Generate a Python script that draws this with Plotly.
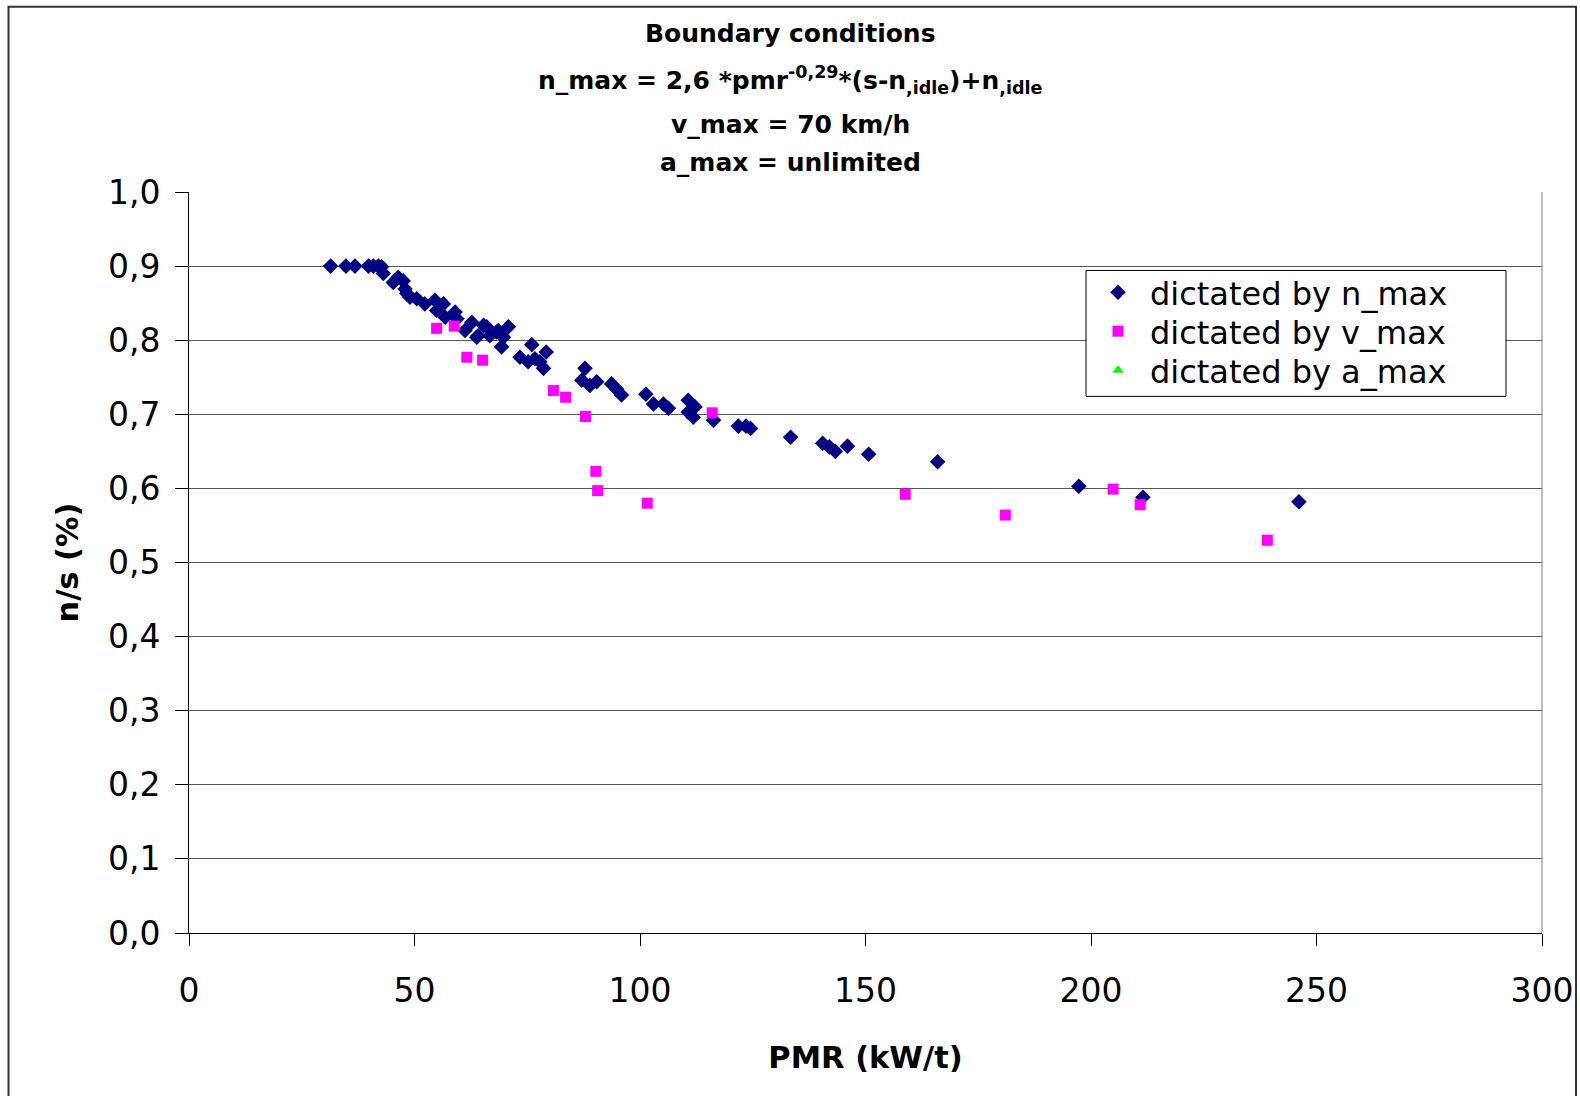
import plotly.graph_objects as go

# ---- data (PMR in kW/t, n/s) ----
nmax_x = [31.4, 34.8, 36.8, 39.8, 40.9, 42.0, 42.7, 43.1, 45.3, 46.4, 47.5, 47.9, 48.3, 49.0,
          50.5, 52.3, 54.5, 54.9, 56.4, 56.8, 59.0, 59.4, 61.2, 62.7, 63.8, 64.1, 65.3, 66.0,
          66.7, 68.2, 68.6, 69.3, 69.7, 70.8, 73.4, 75.2, 76.0, 76.7, 77.8, 78.6, 79.2, 87.1,
          87.8, 88.9, 90.4, 93.7, 94.8, 95.9, 101.3, 103.0, 105.2, 106.3, 110.7, 110.7, 111.8,
          112.2, 116.3, 121.8, 123.5, 124.5, 133.4, 140.5, 142.0, 143.3, 146.0, 150.7, 166.0,
          197.3, 211.5, 246.1]
nmax_y = [0.900, 0.900, 0.900, 0.900, 0.900, 0.900, 0.899, 0.890, 0.878, 0.885, 0.880, 0.869, 0.863, 0.858,
          0.856, 0.849, 0.854, 0.840, 0.849, 0.831, 0.838, 0.829, 0.813, 0.824, 0.804, 0.806, 0.820, 0.818,
          0.806, 0.811, 0.813, 0.791, 0.804, 0.818, 0.777, 0.771, 0.794, 0.775, 0.771, 0.762, 0.784, 0.746,
          0.762, 0.739, 0.744, 0.741, 0.734, 0.726, 0.727, 0.714, 0.714, 0.708, 0.719, 0.703, 0.696,
          0.710, 0.692, 0.684, 0.684, 0.681, 0.669, 0.661, 0.656, 0.650, 0.657, 0.646, 0.636,
          0.603, 0.588, 0.582]

vmax_x = [54.9, 58.8, 61.6, 65.1, 80.8, 83.5, 87.9, 90.2, 90.6, 101.6, 116.0, 158.8, 181.0, 204.9, 210.9, 239.1]
vmax_y = [0.816, 0.819, 0.777, 0.773, 0.732, 0.723, 0.697, 0.623, 0.597, 0.580, 0.702, 0.592, 0.564, 0.599, 0.578, 0.530]

amax_x = []
amax_y = []

series_names = ["dictated by n_max", "dictated by v_max", "dictated by a_max"]
x_ticks = [0, 50, 100, 150, 200, 250, 300]
y_ticks = [0.0, 0.1, 0.2, 0.3, 0.4, 0.5, 0.6, 0.7, 0.8, 0.9, 1.0]

title_lines = [
    "Boundary conditions",
    "n_max = 2,6 *pmr<sup>-0,29</sup>*(s-n<sub>,idle</sub>)+n<sub>,idle</sub>",
    "v_max = 70 km/h",
    "a_max = unlimited",
]

FONT = "DejaVu Sans"

fig = go.Figure()
fig.add_trace(go.Scatter(x=nmax_x, y=nmax_y, mode="markers", name=series_names[0], legend="legend",
                         marker=dict(symbol="diamond", size=12, color="#000080")))
fig.add_trace(go.Scatter(x=vmax_x, y=vmax_y, mode="markers", name=series_names[1], legend="legend2",
                         marker=dict(symbol="square", size=11, color="#FF00FF")))
fig.add_trace(go.Scatter(x=amax_x if amax_x else [None], y=amax_y if amax_y else [None],
                         mode="markers", name=series_names[2], legend="legend3",
                         marker=dict(symbol="triangle-up", size=10, color="#00FF00")))

L, R, T, B = 189, 38, 191.5, 163
W, H = 1580, 1096
pw = W - L - R
ph = H - T - B

def px_x(X):
    return (X - L) / pw

def px_y(Y):
    return (H - B - Y) / ph

title_y = [33, 79, 124, 162]
for txt, yy in zip(title_lines, title_y):
    fig.add_annotation(text="<b>" + txt + "</b>", xref="paper", yref="paper",
                       x=px_x(790), y=px_y(yy), xanchor="center", yanchor="middle",
                       showarrow=False, font=dict(family=FONT, size=25, color="black"))

# outer chart border
fig.add_shape(type="rect", xref="paper", yref="paper",
              x0=px_x(8.5), x1=px_x(1576), y0=px_y(1110), y1=px_y(6),
              line=dict(color="#333333", width=2), fillcolor="rgba(0,0,0,0)", layer="below")
# right plot-area border
fig.add_shape(type="line", xref="paper", yref="paper", x0=1, x1=1, y0=0, y1=1,
              line=dict(color="#808080", width=1))
# legend frame
fig.add_shape(type="rect", xref="paper", yref="paper",
              x0=px_x(1086), x1=px_x(1506), y0=px_y(396), y1=px_y(270),
              line=dict(color="black", width=1), fillcolor="white", layer="above")

legend_rows = [292, 331, 370]
leg_common = dict(xanchor="left", yanchor="middle", bgcolor="rgba(0,0,0,0)", borderwidth=0,
                  font=dict(family=FONT, size=32, color="black"), itemsizing="trace", itemwidth=54)

fig.update_layout(
    width=W, height=H,
    margin=dict(l=L, r=R, t=T, b=B, autoexpand=False),
    paper_bgcolor="white", plot_bgcolor="white",
    separators=", ",
    font=dict(family=FONT, color="black"),
    showlegend=True,
    legend=dict(x=px_x(1086), y=px_y(legend_rows[0]), **leg_common),
    legend2=dict(x=px_x(1086), y=px_y(legend_rows[1]), **leg_common),
    legend3=dict(x=px_x(1086), y=px_y(legend_rows[2]), **leg_common),
    xaxis=dict(range=[0, 300], tickvals=x_ticks, tickformat="d",
               showgrid=False, zeroline=False, showline=True, linecolor="black", linewidth=1,
               ticks="outside", ticklen=12, tickcolor="black",
               tickfont=dict(family=FONT, size=33, color="black"),
               ticklabelstandoff=16,
               title=dict(text="<b>PMR (kW/t)</b>", font=dict(family=FONT, size=30.5, color="black"),
                          standoff=38)),
    yaxis=dict(range=[0, 1.0], tickvals=y_ticks, tickformat=".1f",
               showgrid=True, gridcolor="#555555", gridwidth=1,
               zeroline=False, showline=True, linecolor="black", linewidth=1,
               ticks="outside", ticklen=13, tickcolor="black",
               tickfont=dict(family=FONT, size=33, color="black"),
               ticklabelstandoff=8,
               title=dict(text="<b>n/s (%)</b>", font=dict(family=FONT, size=30.5, color="black"),
                          standoff=20)),
)

fig.write_html("out.html", config={"displayModeBar": False},
               post_script="document.body.style.margin='0';document.body.style.overflow='hidden';")
